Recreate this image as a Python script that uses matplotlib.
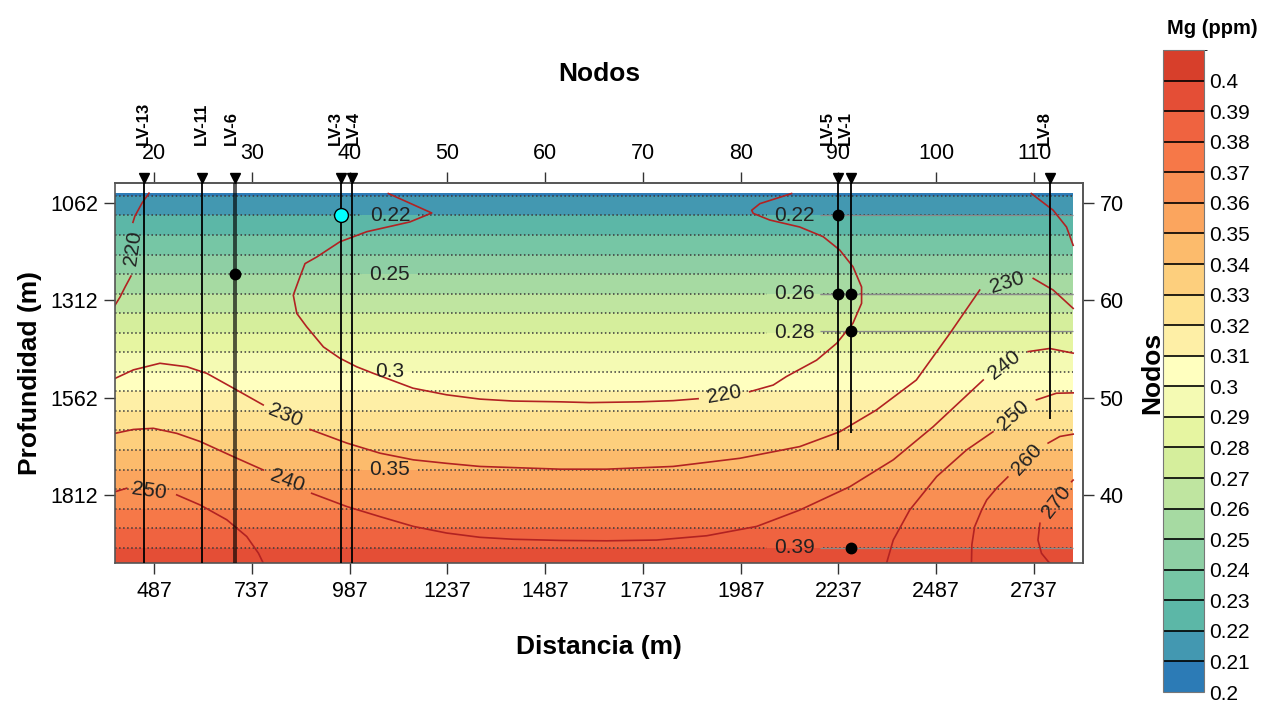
import numpy as np
import matplotlib
matplotlib.use('Agg')
import matplotlib.pyplot as plt
from matplotlib.colors import ListedColormap, BoundaryNorm
from matplotlib.cm import ScalarMappable
from matplotlib.transforms import offset_copy

plt.rcParams['font.family'] = ['Liberation Sans', 'DejaVu Sans']

# section extent (m)
sec_dist = [387, 2837]
sec_depth = [1037, 1987]
# Mg at top and base of the section (ppm)
mg_top_base = [0.2086, 0.3978]

mg_levels = np.round(np.arange(0.20, 0.415, 0.01), 2)
mg_colors = ['#2c7bb6', '#4398b1', '#5cb7a7', '#76c6a5', '#8ecfa4', '#a6daa2',
             '#bfe5a0', '#d5ee9c', '#e6f5a1', '#f4fab3', '#ffffbf', '#feefa6',
             '#fee291', '#fdcf7d', '#fcbb6c', '#fba55e', '#f98f53', '#f67848',
             '#ef6340', '#e44e36', '#d73f2b']

wells = ['LV-13', 'LV-11', 'LV-6', 'LV-3', 'LV-4', 'LV-5', 'LV-1', 'LV-8']
well_dist = [460, 610, 694, 964, 994, 2235, 2268, 2777]
well_bottom = [1987, 1987, 1987, 1987, 1987, 1698, 1653, 1617]
well_lab_dx = [0, -0.4, -2.4, -4.1, 0.5, -7.3, -4, -3.6]  # pt

smp_well = ['LV-3', 'LV-6', 'LV-5', 'LV-5', 'LV-1', 'LV-1', 'LV-1']
smp_depth = [1094, 1245, 1094, 1295, 1295, 1392, 1949]
smp_mg = [0.22, 0.25, 0.22, 0.26, 0.26, 0.28, 0.39]

# labelled Mg contours (left / right column)
mg_lab_left = [0.22, 0.25, 0.3, 0.35]
mg_lab_right = [0.22, 0.26, 0.28, 0.39]
lab_x_left, lab_x_right = 1090, 2125

# iso lines (distance, depth) split at the labels
iso_lines = {
    220: [
        [(474, 1037), (456, 1063), (438, 1096), (433, 1112)],
        [(428, 1250), (413, 1278), (400, 1304), (387, 1325)],
        [(1086, 1038), (1197, 1088), (1141, 1111), (1031, 1136), (962, 1162), (903, 1201),
         (873, 1218), (860, 1252), (843, 1299), (852, 1346), (877, 1380), (920, 1432),
         (962, 1461), (1005, 1483), (1048, 1500), (1149, 1538), (1235, 1555), (1320, 1566),
         (1405, 1571), (1525, 1573), (1601, 1575), (1729, 1573), (1814, 1570), (1878, 1565)],
        [(2010, 1547), (2070, 1530), (2104, 1508), (2181, 1466), (2232, 1423), (2274, 1371),
         (2296, 1320), (2296, 1278), (2274, 1226), (2240, 1183), (2198, 1149), (2138, 1124),
         (2061, 1106), (2019, 1089), (2015, 1081), (2036, 1064), (2117, 1038)],
        [(2730, 1038), (2786, 1081), (2820, 1124), (2837, 1171)],
    ],
    230: [
        [(387, 1513), (434, 1491), (502, 1474), (571, 1483), (622, 1500), (690, 1538), (766, 1581)],
        [(886, 1644), (980, 1679), (1065, 1705), (1150, 1722), (1235, 1731), (1320, 1739),
         (1525, 1746), (1644, 1746), (1814, 1739), (1985, 1718), (2138, 1688), (2240, 1650),
         (2334, 1594), (2436, 1517), (2522, 1397), (2598, 1286)],
        [(2735, 1256), (2786, 1286), (2837, 1333)],
    ],
    240: [
        [(387, 1654), (434, 1644), (485, 1641), (545, 1654), (605, 1675), (690, 1714), (766, 1748)],
        [(890, 1808), (980, 1842), (1065, 1868), (1150, 1893), (1235, 1910), (1320, 1921),
         (1405, 1926), (1525, 1929), (1644, 1930), (1772, 1928), (1900, 1917), (2028, 1893),
         (2138, 1851), (2266, 1791), (2377, 1722), (2479, 1637), (2607, 1517)],
        [(2722, 1444), (2777, 1436), (2837, 1448)],
    ],
    250: [
        [(387, 1804), (417, 1795)],
        [(545, 1812), (605, 1838), (673, 1876), (724, 1919), (754, 1962), (766, 1987)],
        [(2360, 1987), (2377, 1928), (2419, 1851), (2488, 1765), (2564, 1697), (2632, 1650)],
        [(2743, 1568), (2794, 1551), (2837, 1550)],
    ],
    260: [
        [(2577, 1987), (2578, 1940), (2585, 1894), (2603, 1851), (2616, 1825), (2642, 1794), (2670, 1766)],
        [(2773, 1679), (2803, 1662), (2837, 1656)],
    ],
    270: [
        [(2777, 1987), (2773, 1983), (2756, 1962), (2747, 1928), (2752, 1885)],
        [(2833, 1778), (2837, 1774)],
    ],
}
iso_lab_val = [220, 230, 240, 250, 220, 230, 240, 250, 260, 270]
iso_lab_pos = [(433, 1178), (822, 1609), (827, 1776), (474, 1802), (1944, 1555),
               (2667, 1268), (2662, 1479), (2683, 1607), (2718, 1722), (2795, 1830)]
iso_lab_rot = [82, -22, -20, -8, 10, 17, 38, 42, 47, 52]

dist_ticks = [487, 737, 987, 1237, 1487, 1737, 1987, 2237, 2487, 2737]
depth_ticks = [1062, 1312, 1562, 1812]
z_top = 1011

fig = plt.figure(figsize=(12.66, 7.02), dpi=100)
ax = fig.add_axes([0.0908, 0.198, 0.7646, 0.5413])

cmap = ListedColormap(mg_colors)
norm = BoundaryNorm(mg_levels, cmap.N)

X, Z = np.meshgrid(sec_dist, sec_depth)
M = np.array([[mg_top_base[0]] * 2, [mg_top_base[1]] * 2])
ax.contourf(X, Z, M, levels=mg_levels, cmap=cmap, norm=norm, zorder=0)
cs = ax.contour(X, Z, M, levels=mg_levels, colors='#3a3a3a', linewidths=1.1,
                linestyles=':', zorder=1)
pos = [(lab_x_left, np.interp(v, mg_top_base, sec_depth)) for v in mg_lab_left]
pos += [(lab_x_right, np.interp(v, mg_top_base, sec_depth)) for v in mg_lab_right]
ax.clabel(cs, manual=pos, inline=True, fmt='%g', fontsize=15, colors='#222222',
          inline_spacing=8)

# tie lines of the eastern samples
for w, z in zip(smp_well, smp_depth):
    if w in ('LV-5', 'LV-1'):
        ax.hlines(z, 2190, sec_dist[1], color='#8a8a8a', lw=0.9, zorder=1.5)

for lev, segs in iso_lines.items():
    for seg in segs:
        xs, zs = zip(*seg)
        ax.plot(xs, zs, color='#b22222', lw=1.2, zorder=2)
for v, (x, z), r in zip(iso_lab_val, iso_lab_pos, iso_lab_rot):
    ax.text(x, z, str(v), fontsize=15, color='#222222', rotation=r,
            rotation_mode='anchor', ha='center', va='center', zorder=2)

# wells
tri_tr = offset_copy(ax.get_xaxis_transform(), fig=fig, y=3.5, units='points')
for name, d, zb, dx in zip(wells, well_dist, well_bottom, well_lab_dx):
    if name == 'LV-6':
        ax.vlines(d, z_top, zb, color='k', lw=2.8, alpha=0.65, zorder=3)
    else:
        ax.vlines(d, z_top, zb, color='k', lw=1.3, zorder=3)
    ax.plot([d], [1], 'v', color='k', ms=7, transform=tri_tr, clip_on=False, zorder=4)
    lab_tr = offset_copy(ax.get_xaxis_transform(), fig=fig, x=dx, y=27.4, units='points')
    ax.text(d, 1, name, transform=lab_tr, rotation=90, ha='center', va='bottom',
            fontsize=12, fontweight='bold')

# samples
sd = dict(zip(wells, well_dist))
for w, z in zip(smp_well, smp_depth):
    if w == 'LV-3':
        ax.plot(sd[w], z, 'o', ms=10, mfc='#00ffff', mec='k', mew=1, zorder=5)
    else:
        ax.plot(sd[w], z, 'o', ms=7.5, color='k', zorder=5)

ax.set_xlim(387, 2862)
ax.set_ylim(1987, z_top)
ax.set_xticks(dist_ticks)
ax.set_yticks(depth_ticks)

top = ax.secondary_xaxis('top', functions=(lambda d: (d + 13) / 25, lambda n: n * 25 - 13))
top.set_xticks(list(range(20, 111, 10)))
right = ax.secondary_yaxis('right', functions=(lambda z: (2812 - z) / 25, lambda n: 2812 - n * 25))
right.set_yticks([40, 50, 60, 70])

for a in (ax, top, right):
    a.tick_params(labelsize=15.5, length=8, width=1, color='#333333', direction='out')
    for s in a.spines.values():
        s.set_color('#555555')
        s.set_linewidth(1.2)
ax.tick_params(axis='x', pad=5)
ax.tick_params(axis='y', pad=4)
top.tick_params(pad=6)
right.tick_params(pad=4)

lab_kw = dict(fontsize=19, fontweight='bold')
ax.set_xlabel('Distancia (m)', labelpad=24, **lab_kw)
ax.set_ylabel('Profundidad (m)', labelpad=6, **lab_kw)
top.set_xlabel('Nodos', labelpad=44, **lab_kw)
right.set_ylabel('Nodos', labelpad=12, **lab_kw)

# colour bar
cax = fig.add_axes([0.9186, 1 - 692 / 702, 0.0324, (692 - 50) / 702])
cb = fig.colorbar(ScalarMappable(norm=norm, cmap=cmap), cax=cax,
                  boundaries=mg_levels, ticks=mg_levels[:-1], drawedges=True)
cb.ax.set_yticklabels(['%g' % v for v in mg_levels[:-1]])
cb.outline.set_edgecolor('#777777')
cb.dividers.set_color('k')
cb.dividers.set_linewidth(1.2)
cax.tick_params(length=0, pad=4, labelsize=15)
fig.text(1212 / 1266, 1 - 28 / 702, 'Mg (ppm)', ha='center', va='center',
         fontsize=14.5, fontweight='bold')

fig.savefig('out.png', dpi=100)
